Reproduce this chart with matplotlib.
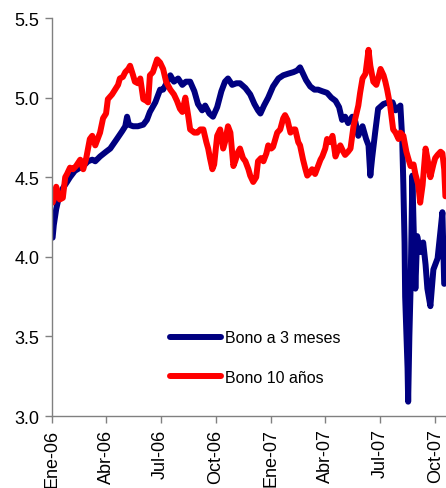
import matplotlib
matplotlib.use("Agg")
import matplotlib.pyplot as plt
import pandas as pd

plt.rcParams["font.family"] = ["Liberation Sans", "DejaVu Sans"]

# 3-month bill yield (%)
dates_3m = [
    "2006-01-02", "2006-01-04", "2006-01-08", "2006-01-11", "2006-01-14", "2006-01-19",
    "2006-01-26", "2006-01-31", "2006-02-08", "2006-02-17", "2006-02-22", "2006-03-02",
    "2006-03-09", "2006-03-14", "2006-03-22", "2006-04-01", "2006-04-08", "2006-04-19",
    "2006-04-28", "2006-05-03", "2006-05-06", "2006-05-09", "2006-05-16", "2006-05-24",
    "2006-06-02", "2006-06-08", "2006-06-13", "2006-06-22", "2006-06-30", "2006-07-05",
    "2006-07-12", "2006-07-17", "2006-07-23", "2006-07-30", "2006-08-06", "2006-08-12",
    "2006-08-19", "2006-08-26", "2006-09-01", "2006-09-08", "2006-09-13", "2006-09-20",
    "2006-09-26", "2006-10-03", "2006-10-10", "2006-10-16", "2006-10-21", "2006-10-28",
    "2006-11-04", "2006-11-10", "2006-11-19", "2006-11-27", "2006-12-04", "2006-12-10",
    "2006-12-14", "2006-12-20", "2006-12-27", "2007-01-04", "2007-01-13", "2007-01-21",
    "2007-01-29", "2007-02-07", "2007-02-13", "2007-02-18", "2007-02-23", "2007-02-28",
    "2007-03-07", "2007-03-14", "2007-03-20", "2007-03-27", "2007-04-04", "2007-04-11",
    "2007-04-18", "2007-04-24", "2007-04-29", "2007-05-04", "2007-05-09", "2007-05-16",
    "2007-05-21", "2007-05-26", "2007-06-02", "2007-06-08", "2007-06-12", "2007-06-15",
    "2007-06-18", "2007-06-23", "2007-06-28", "2007-07-07", "2007-07-15", "2007-07-22",
    "2007-07-27", "2007-08-04", "2007-08-07", "2007-08-09", "2007-08-11", "2007-08-12",
    "2007-08-16", "2007-08-17", "2007-08-19", "2007-08-21", "2007-08-24", "2007-08-26",
    "2007-08-29", "2007-09-01", "2007-09-06", "2007-09-11", "2007-09-15", "2007-09-18",
    "2007-09-23", "2007-09-28", "2007-10-05", "2007-10-10", "2007-10-13", "2007-10-16",
]
yield_3m = [
    4.12, 4.20, 4.30, 4.35, 4.38, 4.43,
    4.47, 4.50, 4.54, 4.56, 4.57, 4.60,
    4.61, 4.60, 4.63, 4.66, 4.68, 4.74,
    4.79, 4.82, 4.88, 4.83, 4.82, 4.82,
    4.83, 4.86, 4.91, 4.97, 5.05, 5.05,
    5.10, 5.14, 5.10, 5.12, 5.08, 5.10,
    5.10, 5.04, 4.96, 4.92, 4.95, 4.90,
    4.88, 4.94, 5.04, 5.10, 5.12, 5.08,
    5.09, 5.09, 5.06, 5.02, 4.96, 4.92,
    4.90, 4.95, 5.00, 5.07, 5.12, 5.14,
    5.15, 5.16, 5.17, 5.19, 5.15, 5.11,
    5.07, 5.05, 5.05, 5.04, 5.03, 5.00,
    4.98, 4.94, 4.86, 4.88, 4.84, 4.88,
    4.85, 4.76, 4.82, 4.74, 4.70, 4.51,
    4.62, 4.78, 4.93, 4.96, 4.97, 4.97,
    4.92, 4.95, 4.75, 4.45, 4.09, 3.75,
    3.30, 3.09, 3.50, 3.80, 4.51, 4.20,
    3.80, 4.13, 4.03, 4.09, 3.95, 3.80,
    3.69, 3.92, 3.99, 4.17, 4.28, 3.83,
]

# 10-year bond yield (%)
dates_10y = [
    "2006-01-02", "2006-01-04", "2006-01-08", "2006-01-11", "2006-01-14", "2006-01-19",
    "2006-01-23", "2006-01-26", "2006-01-31", "2006-02-05", "2006-02-10", "2006-02-17",
    "2006-02-22", "2006-02-27", "2006-03-05", "2006-03-09", "2006-03-14", "2006-03-22",
    "2006-03-27", "2006-04-01", "2006-04-04", "2006-04-11", "2006-04-16", "2006-04-21",
    "2006-04-24", "2006-04-29", "2006-05-03", "2006-05-08", "2006-05-11", "2006-05-16",
    "2006-05-19", "2006-05-24", "2006-05-28", "2006-06-02", "2006-06-07", "2006-06-10",
    "2006-06-13", "2006-06-18", "2006-06-25", "2006-06-30", "2006-07-05", "2006-07-10",
    "2006-07-17", "2006-07-23", "2006-07-28", "2006-08-02", "2006-08-06", "2006-08-11",
    "2006-08-16", "2006-08-19", "2006-08-26", "2006-08-31", "2006-09-05", "2006-09-10",
    "2006-09-15", "2006-09-18", "2006-09-21", "2006-09-25", "2006-09-28", "2006-10-03",
    "2006-10-08", "2006-10-13", "2006-10-16", "2006-10-21", "2006-10-25", "2006-10-30",
    "2006-11-02", "2006-11-07", "2006-11-10", "2006-11-15", "2006-11-19", "2006-11-24",
    "2006-11-27", "2006-12-02", "2006-12-07", "2006-12-10", "2006-12-15", "2006-12-19",
    "2006-12-24", "2006-12-27", "2007-01-01", "2007-01-04", "2007-01-11", "2007-01-16",
    "2007-01-21", "2007-01-24", "2007-01-28", "2007-02-02", "2007-02-07", "2007-02-10",
    "2007-02-15", "2007-02-18", "2007-02-23", "2007-02-27", "2007-03-02", "2007-03-07",
    "2007-03-10", "2007-03-15", "2007-03-19", "2007-03-24", "2007-03-27", "2007-04-01",
    "2007-04-04", "2007-04-09", "2007-04-13", "2007-04-18", "2007-04-23", "2007-04-26",
    "2007-05-01", "2007-05-04", "2007-05-09", "2007-05-13", "2007-05-18", "2007-05-23",
    "2007-05-26", "2007-05-29", "2007-06-02", "2007-06-07", "2007-06-12", "2007-06-15",
    "2007-06-20", "2007-06-25", "2007-06-28", "2007-07-02", "2007-07-07", "2007-07-10",
    "2007-07-13", "2007-07-18", "2007-07-23", "2007-07-27", "2007-08-01", "2007-08-04",
    "2007-08-09", "2007-08-14", "2007-08-17", "2007-08-21", "2007-08-26", "2007-08-29",
    "2007-09-03", "2007-09-06", "2007-09-10", "2007-09-15", "2007-09-18", "2007-09-23",
    "2007-09-28", "2007-10-01", "2007-10-05", "2007-10-10", "2007-10-13", "2007-10-16",
    "2007-10-18",
]
yield_10y = [
    4.34, 4.36, 4.44, 4.40, 4.36, 4.37,
    4.50, 4.52, 4.56, 4.55, 4.57, 4.61,
    4.55, 4.62, 4.74, 4.76, 4.70, 4.78,
    4.87, 4.90, 4.99, 5.02, 5.05, 5.08,
    5.12, 5.13, 5.16, 5.18, 5.20, 5.14,
    5.10, 5.09, 5.12, 4.99, 4.98, 4.97,
    5.14, 5.16, 5.24, 5.22, 5.18, 5.10,
    5.05, 5.02, 4.98, 4.93, 4.91, 5.00,
    4.88, 4.80, 4.78, 4.78, 4.80, 4.80,
    4.72, 4.68, 4.62, 4.55, 4.58, 4.76,
    4.80, 4.68, 4.72, 4.82, 4.78, 4.57,
    4.60, 4.66, 4.68, 4.62, 4.60, 4.55,
    4.51, 4.47, 4.50, 4.60, 4.62, 4.60,
    4.65, 4.70, 4.68, 4.69, 4.78, 4.80,
    4.87, 4.89, 4.86, 4.78, 4.80, 4.80,
    4.72, 4.70, 4.61, 4.55, 4.51, 4.53,
    4.55, 4.52, 4.56, 4.61, 4.63, 4.68,
    4.74, 4.72, 4.76, 4.63, 4.68, 4.70,
    4.66, 4.64, 4.66, 4.68, 4.82, 4.90,
    4.95, 5.03, 5.12, 5.15, 5.30, 5.20,
    5.10, 5.08, 5.12, 5.18, 5.14, 5.10,
    5.05, 4.95, 4.80, 4.78, 4.74, 4.78,
    4.76, 4.66, 4.62, 4.57, 4.58, 4.52,
    4.45, 4.34, 4.45, 4.68, 4.62, 4.50,
    4.58, 4.62, 4.64, 4.66, 4.65, 4.55,
    4.38,
]

series_labels = ["Bono a 3 meses", "Bono 10 años"]
series_colors = ["#000080", "#FF0000"]

tick_dates = ["2006-01-01", "2006-04-01", "2006-07-01", "2006-10-01",
              "2007-01-01", "2007-04-01", "2007-07-01", "2007-10-01"]
tick_labels = ["Ene-06", "Abr-06", "Jul-06", "Oct-06",
               "Ene-07", "Abr-07", "Jul-07", "Oct-07"]
y_ticks = [3.0, 3.5, 4.0, 4.5, 5.0, 5.5]

LW = 4.3

fig = plt.figure(figsize=(4.46, 4.89), dpi=100)
ax = fig.add_axes([52 / 446, 72 / 489, 394 / 446, 398 / 489])

ax.plot(pd.to_datetime(dates_3m), yield_3m, color=series_colors[0],
        lw=LW, solid_joinstyle="round", solid_capstyle="round",
        label=series_labels[0])
ax.plot(pd.to_datetime(dates_10y), yield_10y, color=series_colors[1],
        lw=LW, solid_joinstyle="round", solid_capstyle="round",
        label=series_labels[1])

ax.set_xlim(pd.Timestamp("2006-01-01"), pd.Timestamp("2007-10-19"))
ax.set_ylim(3.0, 5.5)
ax.set_yticks(y_ticks)
ax.set_yticklabels([f"{v:.1f}" for v in y_ticks])
ax.set_xticks(pd.to_datetime(tick_dates))
ax.set_xticklabels(tick_labels, rotation=90, va="top", ha="center")

for side in ("top", "right"):
    ax.spines[side].set_visible(False)
for side in ("left", "bottom"):
    ax.spines[side].set_color("#808080")
    ax.spines[side].set_linewidth(1.0)

ax.tick_params(axis="both", direction="out", length=5, width=1.0,
               color="#808080", labelsize=13, labelcolor="#000000")
ax.tick_params(axis="y", pad=4)
ax.tick_params(axis="x", pad=4)

leg = ax.legend(loc="center left", bbox_to_anchor=(0.30, 0.147),
                frameon=False, fontsize=11.5, handlelength=3.2,
                handletextpad=0.2, labelspacing=1.55, borderpad=0,
                borderaxespad=0)
for line in leg.get_lines():
    line.set_linewidth(LW)

fig.savefig("out.png", dpi=100)
